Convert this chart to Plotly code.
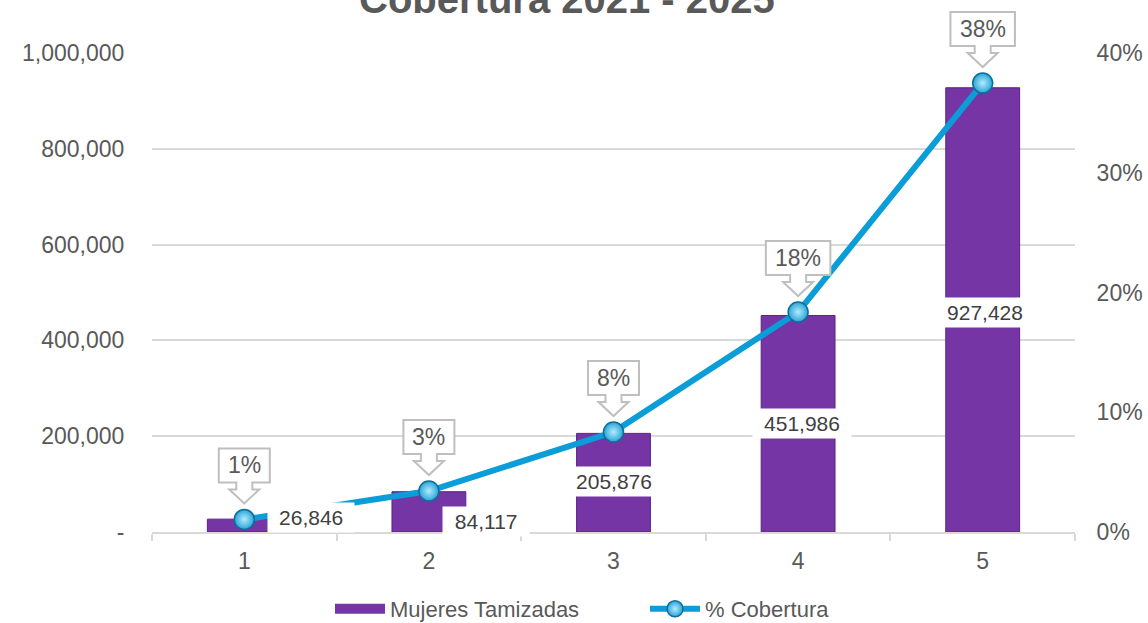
import plotly.graph_objects as go

# ---- data ----
categories = ["1", "2", "3", "4", "5"]
mujeres = [26846, 84117, 205876, 451986, 927428]
cobertura = [0.0105, 0.0342, 0.0835, 0.1837, 0.3749]
cobertura_labels = ["1%", "3%", "8%", "18%", "38%"]
y_tickvals = [0, 200000, 400000, 600000, 800000, 1000000]
y_ticktext = ["-", "200,000", "400,000", "600,000", "800,000", "1,000,000"]
y2_tickvals = [0, 0.1, 0.2, 0.3, 0.4]
y2_ticktext = ["0%", "10%", "20%", "30%", "40%"]
title_text = "Cobertura 2021 - 2025"

Y_RANGE = [0, 1000000]
Y2_RANGE = [0, 0.4]

# ---- label placement (layout only) ----
bar_label_dx = [0.36, 0.31, 0.0, 0.02, 0.01]
bar_label_y = [31300, 20900, 104400, 225500, 459300]

FONT = "Liberation Sans, Arial, sans-serif"
GRAY = "#595959"
PURPLE = "#7535A5"

fig = go.Figure()
fig.add_trace(go.Bar(
    x=categories, y=mujeres, name="Mujeres Tamizadas", width=0.4, showlegend=False,
    marker=dict(color=PURPLE, line=dict(color="#5A2386", width=1)),
))
# legend entry for the bars (wide rectangle like the original)
fig.add_trace(go.Scatter(
    x=[None], y=[None], mode="lines", name="Mujeres Tamizadas",
    line=dict(color=PURPLE, width=12),
))
fig.add_trace(go.Scatter(
    x=categories, y=cobertura, yaxis="y2", mode="lines+markers", name="% Cobertura",
    line=dict(color="#0A9DD8", width=6),
    marker=dict(size=20, color="#2AA4D8", gradient=dict(type="radial", color="#B2EBFC"),
                line=dict(color="#0B6F9C", width=1.5)),
))

shapes = []
annotations = []
# callouts for coverage
for i, lab in enumerate(cobertura_labels):
    hw = (24 + 13.5 * len(lab)) / 2
    top, bot, hb, tip, sw, hh = 71, 37, 30, 16, 8, 15
    path = (f"M {-hw},{bot} L {-hw},{top} L {hw},{top} L {hw},{bot} L {sw},{bot} "
            f"L {sw},{hb} L {hh},{hb} L 0,{tip} L {-hh},{hb} L {-sw},{hb} L {-sw},{bot} Z")
    yfrac = (cobertura[i] - Y2_RANGE[0]) / (Y2_RANGE[1] - Y2_RANGE[0])
    shapes.append(dict(type="path", path=path, xref="x", yref="y2 domain",
                       xsizemode="pixel", ysizemode="pixel",
                       xanchor=i, yanchor=yfrac,
                       fillcolor="white", line=dict(color="#BFBFBF", width=2), layer="above"))
    annotations.append(dict(x=i, y=cobertura[i], xref="x", yref="y2", yshift=54,
                            text=lab, showarrow=False,
                            font=dict(size=23, color=GRAY, family=FONT)))

# bar value labels
for i, v in enumerate(mujeres):
    txt = f"{v:,}"
    tw = sum(5.8 if c == "," else 11.7 for c in txt)
    annotations.append(dict(x=i + bar_label_dx[i], y=bar_label_y[i], xref="x", yref="y",
                            text=txt, showarrow=False, bgcolor="white", borderpad=3,
                            width=tw + 16,
                            font=dict(size=21, color="#404040", family=FONT)))

# title (partly cut at top as in the reference)
annotations.append(dict(x=(567 - 152) / 923, y=1, xref="paper", yref="paper",
                        yanchor="middle", yshift=54, showarrow=False,
                        text=f"<b>{title_text}</b>",
                        font=dict(size=40, color=GRAY, family=FONT)))

fig.update_layout(
    width=1148, height=623,
    margin=dict(l=152, r=73, t=53, b=91, autoexpand=False),
    paper_bgcolor="white", plot_bgcolor="white",
    font=dict(family=FONT, color=GRAY),
    showlegend=True,
    legend=dict(orientation="h", xref="container", yref="container",
                x=330 / 1148, xanchor="left", y=1 - 609 / 623, yanchor="middle",
                itemwidth=50, entrywidth=250,
                font=dict(size=22, color=GRAY, family=FONT), bgcolor="rgba(0,0,0,0)"),
    xaxis=dict(type="category", range=[-0.5, 4.5], showgrid=False, automargin=False,
               showline=True, linecolor="#D9D9D9", linewidth=1.5,
               ticks="outside", tickson="boundaries", ticklen=7, tickcolor="#D9D9D9",
               tickwidth=1.5, ticklabelstandoff=8,
               tickfont=dict(size=23, color=GRAY, family=FONT)),
    yaxis=dict(range=Y_RANGE, tickvals=y_tickvals, ticktext=y_ticktext, automargin=False,
               gridcolor="#D9D9D9", gridwidth=1.5, zeroline=False, showline=False,
               ticks="outside", ticklen=22, tickcolor="rgba(0,0,0,0)",
               tickfont=dict(size=23, color=GRAY, family=FONT)),
    yaxis2=dict(overlaying="y", side="right", range=Y2_RANGE, automargin=False,
                tickvals=y2_tickvals, ticktext=y2_ticktext, showgrid=False,
                zeroline=False, showline=False,
                ticks="outside", ticklen=16, tickcolor="rgba(0,0,0,0)",
                tickfont=dict(size=23, color=GRAY, family=FONT)),
    shapes=shapes, annotations=annotations,
)

fig.write_html("out.html")
